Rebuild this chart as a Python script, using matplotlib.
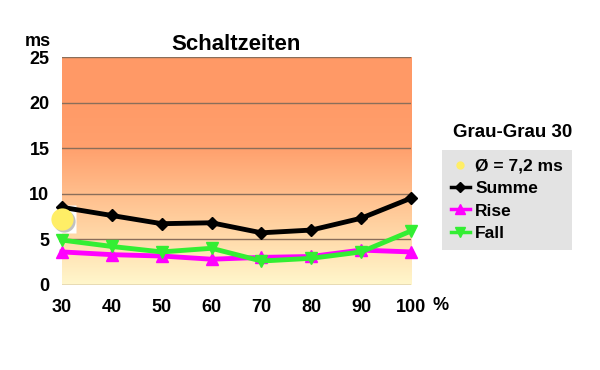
import matplotlib
matplotlib.use("Agg")
import matplotlib.pyplot as plt
import numpy as np
from matplotlib.colors import LinearSegmentedColormap
from matplotlib.lines import Line2D

plt.rcParams['font.family'] = ['Liberation Sans', 'DejaVu Sans']
plt.rcParams['font.weight'] = 'bold'

# data
gray_levels = [30, 40, 50, 60, 70, 80, 90, 100]
summe = [8.5, 7.6, 6.7, 6.8, 5.7, 6.0, 7.3, 9.5]
rise = [3.6, 3.3, 3.15, 2.8, 3.0, 3.1, 3.8, 3.6]
fall = [4.9, 4.2, 3.6, 4.0, 2.6, 2.9, 3.6, 5.9]
average = 7.2
y_ticks = [0, 5, 10, 15, 20, 25]

fig = plt.figure(figsize=(6, 3.7), dpi=100)
ax = fig.add_axes([0.1033, 0.2305, 0.5817, 0.6154])

# gradient background
cmap = LinearSegmentedColormap.from_list(
    'bg', [(0.0, '#FFF7CC'), (0.2, '#FFDBAB'), (0.4, '#FFBE8C'),
           (0.6, '#FFA06D'), (0.8, '#FF9A67'), (1.0, '#FF9966')])
grad = np.linspace(0, 1, 256).reshape(-1, 1)
ax.imshow(grad, cmap=cmap, origin='lower', aspect='auto',
          extent=[30, 100, 0, 25], zorder=0)

for y in y_ticks:
    ax.axhline(y, color='#8A6E5A', lw=1.0, zorder=1)

ax.plot(gray_levels, summe, color='black', lw=3.5, marker='D', ms=6,
        zorder=5, clip_on=False)
ax.plot(gray_levels, rise, color='#FF00FF', lw=3.5, marker='^', ms=8,
        zorder=4, clip_on=False)
ax.plot(gray_levels, fall, color='#33EE33', lw=3.5, marker='v', ms=8,
        zorder=4, clip_on=False)

# average marker with white patch and shadow
ax.plot([gray_levels[0]], [average], marker='s', ms=20, color='white',
        mec='none', zorder=2, clip_on=False)
ax.plot([gray_levels[0] + 0.4], [average - 0.25], marker='o', ms=16,
        color='#999999', mec='none', zorder=3, clip_on=False, alpha=0.6)
ax.plot([gray_levels[0]], [average], marker='o', ms=16, color='#FFEE66',
        mec='none', zorder=6, clip_on=False)

ax.set_xlim(30, 100)
ax.set_ylim(0, 25)
ax.set_xticks(gray_levels)
ax.set_yticks(y_ticks)
ax.tick_params(length=0, labelsize=13)
ax.tick_params(axis='x', pad=10)
ax.tick_params(axis='y', pad=9)
for s in ax.spines.values():
    s.set_visible(False)

ax.set_title('Schaltzeiten', fontsize=16, fontweight='bold', pad=5)
fig.text(0.063, 0.888, 'ms', fontsize=13, ha='center', va='center')
fig.text(0.735, 0.174, '%', fontsize=13, ha='center', va='center')

handles = [
    Line2D([], [], ls='none', marker='o', ms=6, color='#FFEE66', mec='none'),
    Line2D([], [], color='black', lw=2.5, marker='D', ms=5),
    Line2D([], [], color='#FF00FF', lw=2.5, marker='^', ms=7),
    Line2D([], [], color='#33EE33', lw=2.5, marker='v', ms=7),
]
labels = ['Ø = 7,2 ms', 'Summe', 'Rise', 'Fall']
leg = fig.legend(handles, labels, loc='upper left',
                 bbox_to_anchor=(0.737, 0.595), borderaxespad=0,
                 fontsize=12.5, frameon=True, fancybox=False,
                 handlelength=1.1, handletextpad=0.3, labelspacing=0.42,
                 borderpad=0.5)
leg.get_frame().set_facecolor('#E3E3E3')
leg.get_frame().set_edgecolor('none')
leg.get_frame().set_alpha(1)

fig.text(0.855, 0.642, 'Grau-Grau 30', fontsize=13.5, ha='center',
         va='center')

fig.savefig('out.png', dpi=100)
